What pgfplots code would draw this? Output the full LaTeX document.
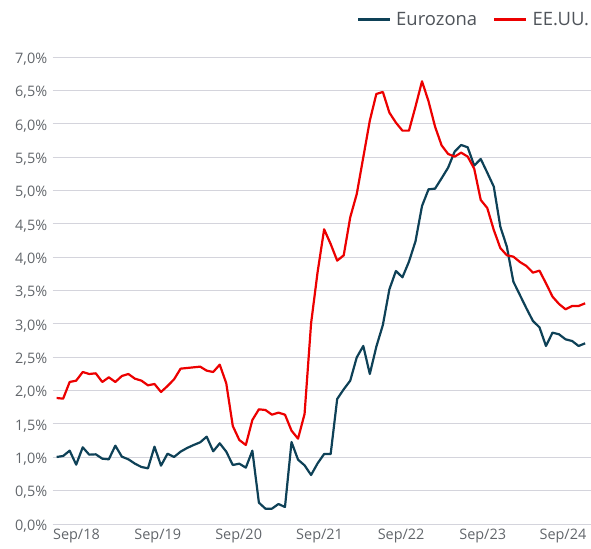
\documentclass[border=0pt]{standalone}
\usepackage{fontspec}
\setmainfont{Open Sans}
\usepackage{pgfplots}
\usepackage{pgfplotstable}
\pgfplotsset{compat=1.18}
\definecolor{euroblue}{HTML}{0E4157}
\definecolor{usred}{HTML}{EC0000}
\definecolor{gridc}{HTML}{D4D4DC}
\definecolor{txt}{HTML}{62666B}
\definecolor{legtxt}{HTML}{4F545A}

\pgfplotstableread{
i eu us
0 1.005 1.89
1 1.02 1.88
2 1.10 2.13
3 0.89 2.15
4 1.15 2.28
5 1.04 2.25
6 1.045 2.26
7 0.98 2.13
8 0.97 2.20
9 1.175 2.13
10 1.01 2.22
11 0.97 2.25
12 0.905 2.18
13 0.855 2.15
14 0.835 2.08
15 1.16 2.10
16 0.875 1.98
17 1.055 2.07
18 1.005 2.17
19 1.085 2.33
20 1.14 2.34
21 1.185 2.35
22 1.225 2.36
23 1.31 2.30
24 1.09 2.28
25 1.21 2.39
26 1.085 2.11
27 0.885 1.47
28 0.905 1.26
29 0.845 1.185
30 1.10 1.56
31 0.32 1.72
32 0.23 1.71
33 0.23 1.64
34 0.30 1.67
35 0.255 1.64
36 1.23 1.40
37 0.965 1.28
38 0.88 1.65
39 0.735 3.01
40 0.91 3.78
41 1.05 4.42
42 1.05 4.20
43 1.875 3.95
44 2.02 4.03
45 2.15 4.60
46 2.50 4.95
47 2.67 5.50
48 2.25 6.05
49 2.66 6.45
50 2.985 6.48
51 3.52 6.17
52 3.795 6.02
53 3.70 5.90
54 3.935 5.90
55 4.24 6.26
56 4.77 6.64
57 5.02 6.34
58 5.03 5.96
59 5.185 5.68
60 5.345 5.55
61 5.585 5.51
62 5.685 5.57
63 5.65 5.51
64 5.375 5.33
65 5.475 4.86
66 5.27 4.74
67 5.06 4.41
68 4.46 4.14
69 4.16 4.03
70 3.635 4.01
71 3.435 3.93
72 3.235 3.87
73 3.045 3.77
74 2.95 3.80
75 2.67 3.61
76 2.87 3.41
77 2.845 3.30
78 2.77 3.22
79 2.745 3.27
80 2.67 3.27
81 2.71 3.31
}\data

\begin{document}
\begin{tikzpicture}
\begin{axis}[
  at={(52.7bp,25bp)}, anchor=south west,
  scale only axis,
  width=538.3bp, height=466.7bp,
  xmin=-0.6, xmax=81.9,
  ymin=0, ymax=7,
  axis line style={draw=none},
  tick style={draw=none},
  ymajorgrids,
  grid style={gridc, line width=1bp},
  ytick={0,0.5,...,7},
  yticklabels={{0,0\%},{0,5\%},{1,0\%},{1,5\%},{2,0\%},{2,5\%},{3,0\%},{3,5\%},{4,0\%},{4,5\%},{5,0\%},{5,5\%},{6,0\%},{6,5\%},{7,0\%}},
  xtick={3.04,15.5,27.9,40.3,52.8,65.3,77.6},
  xticklabels={Sep/18,Sep/19,Sep/20,Sep/21,Sep/22,Sep/23,Sep/24},
  tick label style={font=\fontsize{14.5}{17}\selectfont, text=txt},
  yticklabel style={xshift=-2bp, yshift=-2bp},
  xticklabel style={yshift=-2bp},
  legend columns=2,
  legend style={draw=none, fill=none, at={(1,1)}, anchor=east, yshift=38bp, xshift=0bp,
    font=\fontsize{18.5}{22}\selectfont, text=legtxt, inner sep=0pt, outer sep=0pt,
    /tikz/every odd column/.append style={column sep=3bp},
    /tikz/every even column/.append style={column sep=14bp}},
  legend image code/.code={\draw[#1, line width=2.4bp] (0bp,0bp) -- (32bp,0bp);},
]
\addplot[euroblue, line width=2.2bp, line join=round] table[x=i, y=eu] {\data};
\addplot[usred, line width=2.2bp, line join=round] table[x=i, y=us] {\data};
\legend{Eurozona,EE.UU.}
\end{axis}
\pgfresetboundingbox
\path (0,0) rectangle (591bp,549bp);
\end{tikzpicture}
\end{document}
